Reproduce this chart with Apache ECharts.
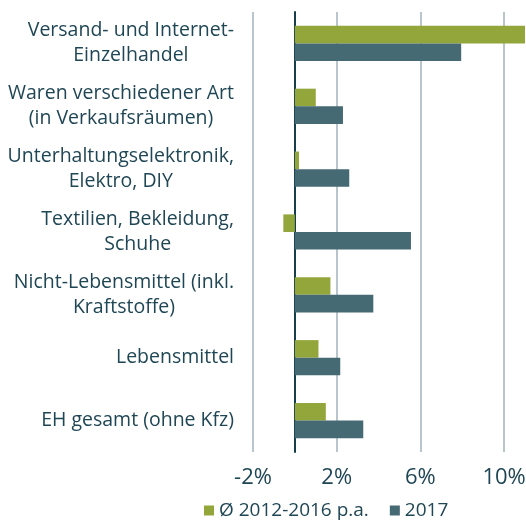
<!DOCTYPE html>
<html>
<head>
<meta charset="utf-8">
<script src="https://cdn.jsdelivr.net/npm/echarts@6/dist/echarts.min.js"></script>
<style>
  html, body { margin: 0; padding: 0; background: #fff; }
  #chart { width: 526px; height: 520px; }
</style>
</head>
<body>
<div id="chart"></div>
<script>
const categories = [
  "Versand- und Internet-\nEinzelhandel",
  "Waren verschiedener Art\n(in Verkaufsräumen)",
  "Unterhaltungselektronik,\nElektro, DIY",
  "Textilien, Bekleidung,\nSchuhe",
  "Nicht-Lebensmittel (inkl.\nKraftstoffe)",
  "Lebensmittel",
  "EH gesamt (ohne Kfz)"
];
const avg2012_2016 = [11.4, 1.0, 0.2, -0.55, 1.7, 1.13, 1.48];
const values2017 = [7.95, 2.3, 2.6, 5.55, 3.75, 2.17, 3.27];
const seriesNames = ["Ø 2012-2016 p.a.", "2017"];

const textColor = "#1f4654";
const font = "'Open Sans', sans-serif";

const chart = echarts.init(document.getElementById("chart"));

chart.setOption({
  animation: false,
  textStyle: { fontFamily: font },
  grid: { left: 253, right: 1, top: 12, bottom: 68, outerBoundsMode: "none", containLabel: false },
  legend: {
    left: 199,
    top: 496,
    icon: "rect",
    itemWidth: 10,
    itemHeight: 10,
    itemGap: 21,
    textStyle: { color: textColor, fontSize: 19, fontFamily: font }
  },
  xAxis: {
    type: "value",
    min: -2,
    max: 11,
    interval: 4,
    axisLine: { show: false },
    axisTick: { show: false },
    splitLine: { show: true, showMaxLine: false, lineStyle: { color: "#b8c6cc", width: 2 } },
    axisLabel: {
      color: textColor,
      fontSize: 22,
      margin: 15,
      showMaxLabel: false,
      formatter: v => v + "%"
    }
  },
  yAxis: {
    type: "category",
    inverse: true,
    data: categories,
    axisLine: { onZero: true, lineStyle: { color: "#163f4c", width: 2 } },
    axisTick: { length: 6, lineStyle: { color: "#163f4c", width: 2 } },
    axisLabel: {
      color: textColor,
      fontSize: 19.5,
      lineHeight: 25,
      margin: 19,
      formatter: v => v.split("\n").map(l => "{c|" + l + "}").join("\n"),
      rich: { c: { align: "center", fontSize: 19.5, lineHeight: 25, color: textColor, fontFamily: font } }
    }
  },
  series: [
    {
      name: seriesNames[0],
      type: "bar",
      data: avg2012_2016,
      itemStyle: { color: "#93a63b" },
      barGap: "0%",
      barCategoryGap: "44%"
    },
    {
      name: seriesNames[1],
      type: "bar",
      data: values2017,
      itemStyle: { color: "#466a73" },
      barGap: "0%",
      barCategoryGap: "44%"
    }
  ]
});
</script>
</body>
</html>
